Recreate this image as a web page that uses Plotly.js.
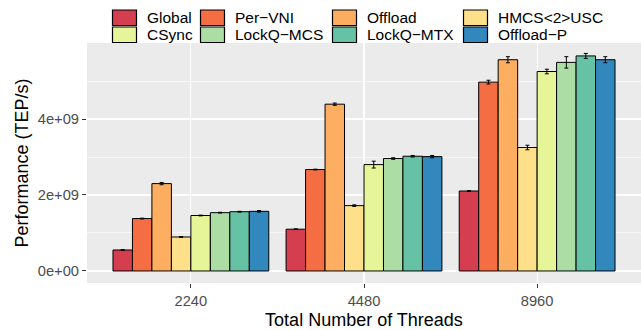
<!DOCTYPE html>
<html>
<head>
<meta charset="utf-8">
<script src="https://cdn.plot.ly/plotly-3.0.1.min.js"></script>
<style>html,body{margin:0;padding:0;background:#fff;}#chart{width:641px;height:330px;}</style>
</head>
<body>
<div id="chart"></div>
<script>
var categories = ['2240', '4480', '8960'];
var seriesNames = ['Global', 'Per\u2212VNI', 'Offload', 'HMCS&lt;2&gt;USC', 'CSync', 'LockQ\u2212MCS', 'LockQ\u2212MTX', 'Offload\u2212P'];
var seriesColors = ['#D53E4F', '#F46D43', '#FDAE61', '#FEE08B', '#E6F598', '#ABDDA4', '#66C2A5', '#3288BD'];

var globalVals   = [0.553e9, 1.10e9, 2.105e9];
var perVniVals   = [1.38e9, 2.67e9, 4.97e9];
var offloadVals  = [2.30e9, 4.39e9, 5.56e9];
var hmcsVals     = [0.895e9, 1.72e9, 3.25e9];
var csyncVals    = [1.46e9, 2.80e9, 5.25e9];
var lockqMcsVals = [1.535e9, 2.96e9, 5.49e9];
var lockqMtxVals = [1.56e9, 3.02e9, 5.66e9];
var offloadPVals = [1.57e9, 3.01e9, 5.56e9];

var globalErr   = [0.01e9, 0.01e9, 0.01e9];
var perVniErr   = [0.01e9, 0.01e9, 0.05e9];
var offloadErr  = [0.03e9, 0.03e9, 0.08e9];
var hmcsErr     = [0.01e9, 0.02e9, 0.06e9];
var csyncErr    = [0.01e9, 0.09e9, 0.06e9];
var lockqMcsErr = [0.01e9, 0.02e9, 0.15e9];
var lockqMtxErr = [0.01e9, 0.02e9, 0.065e9];
var offloadPErr = [0.02e9, 0.03e9, 0.08e9];

var yTickVals = [0, 2e9, 4e9];
var yTickText = ['0e+00', '2e+09', '4e+09'];

var allVals = [globalVals, perVniVals, offloadVals, hmcsVals, csyncVals, lockqMcsVals, lockqMtxVals, offloadPVals];
var allErr = [globalErr, perVniErr, offloadErr, hmcsErr, csyncErr, lockqMcsErr, lockqMtxErr, offloadPErr];

var FONT = 'Liberation Sans, Arial, Helvetica, sans-serif';

var traces = seriesNames.map(function (name, i) {
  return {
    type: 'bar',
    name: name,
    x: categories,
    y: allVals[i],
    marker: { color: seriesColors[i], line: { color: '#000000', width: 1 } },
    error_y: { type: 'data', array: allErr[i], visible: true, color: '#000000', thickness: 1, width: 2 },
    showlegend: false,
    hoverinfo: 'skip'
  };
});

// plot area in px: x 87..641, y 43..283
var L = 87, R = 641, T = 43, B = 283;
function px2x(p) { return (p - L) / (R - L); }
function px2y(p) { return (B - p) / (B - T); }

var colX = [112, 200, 332, 463];
var rowY = [9.5, 26.5];
var keyW = 25, keyH = 16.5;
var shapes = [];
var annotations = [];
seriesNames.forEach(function (name, i) {
  var c = i % 4, r = Math.floor(i / 4);
  var x0 = colX[c], y0 = rowY[r];
  shapes.push({
    type: 'rect', xref: 'paper', yref: 'paper',
    x0: px2x(x0 + 0.5), x1: px2x(x0 + keyW - 0.5),
    y0: px2y(y0 + 0.5), y1: px2y(y0 + keyH - 0.5),
    fillcolor: seriesColors[i], line: { color: '#000000', width: 1.2 }
  });
  annotations.push({
    xref: 'paper', yref: 'paper', x: px2x(x0 + keyW + 7.5), y: px2y(y0 + keyH / 2),
    xanchor: 'left', yanchor: 'middle', showarrow: false, text: name,
    font: { family: FONT, size: 15.5, color: '#000000' }
  });
});

var layout = {
  width: 641, height: 330,
  margin: { l: L, r: 641 - R, t: T, b: 330 - B, pad: 0 },
  paper_bgcolor: '#FFFFFF',
  plot_bgcolor: '#EBEBEB',
  barmode: 'group',
  bargap: 0.1,
  bargroupgap: 0,
  showlegend: false,
  font: { family: FONT },
  xaxis: {
    type: 'category',
    range: [-0.6, 2.6],
    showgrid: true, gridcolor: '#FFFFFF', gridwidth: 1.2,
    zeroline: false, showline: false,
    ticks: 'outside', ticklen: 4, tickcolor: '#333333', tickwidth: 1,
    tickfont: { family: FONT, size: 14.7, color: '#4D4D4D' },
    title: { text: 'Total Number of Threads', font: { family: FONT, size: 18, color: '#000000' }, standoff: 6 },
    automargin: false
  },
  yaxis: {
    range: [-0.316e9, 6.0e9],
    tickvals: yTickVals, ticktext: yTickText,
    showgrid: true, gridcolor: '#FFFFFF', gridwidth: 1.2,
    minor: { dtick: 1e9, tick0: 1e9, showgrid: true, gridcolor: '#FFFFFF', gridwidth: 0.6, ticks: '' },
    zeroline: false, showline: false,
    ticks: 'outside', ticklen: 4, tickcolor: '#333333', tickwidth: 1,
    tickfont: { family: FONT, size: 14.7, color: '#4D4D4D' },
    title: { text: 'Performance (TEP/s)', font: { family: FONT, size: 18, color: '#000000' }, standoff: 4 },
    automargin: false
  },
  shapes: shapes,
  annotations: annotations
};

Plotly.newPlot('chart', traces, layout, { displayModeBar: false, staticPlot: true });
</script>
</body>
</html>
